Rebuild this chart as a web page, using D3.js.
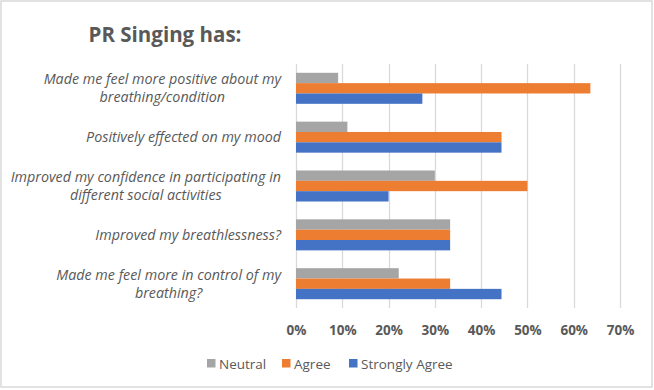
<!DOCTYPE html>
<html>
<head>
<meta charset="utf-8">
<script src="https://cdn.jsdelivr.net/npm/d3@7"></script>
<style>
  html, body { margin: 0; padding: 0; background: #ffffff; }
  svg { display: block; font-family: "Open Sans", "Liberation Sans", sans-serif; }
</style>
</head>
<body>
<svg id="chart"></svg>
<script>
// ── Data ─────────────────────────────────────────────
const title = 'PR Singing has:';

const categories = [
  ['Made me feel more positive about my', 'breathing/condition'],
  ['Positively effected on my mood'],
  ['Improved my confidence in participating in', 'different social activities'],
  ['Improved my breathlessness?'],
  ['Made me feel more in control of my', 'breathing?'],
];

const seriesNames = ['Neutral', 'Agree', 'Strongly Agree'];
const neutral       = [0.091, 0.111, 0.30, 0.333, 0.222];
const agree         = [0.636, 0.444, 0.50, 0.333, 0.333];
const stronglyAgree = [0.273, 0.444, 0.20, 0.333, 0.444];

const xTicks = [0, 0.1, 0.2, 0.3, 0.4, 0.5, 0.6, 0.7];

// ── Layout ───────────────────────────────────────────
const W = 654, H = 390;
const colors = { 'Neutral': '#a5a5a5', 'Agree': '#ed7d31', 'Strongly Agree': '#4472c4' };
const textColor = '#595959';

const svg = d3.select('#chart').attr('width', W).attr('height', H);

svg.append('rect')
  .attr('x', 1).attr('y', 1)
  .attr('width', W - 3).attr('height', H - 4)
  .attr('fill', '#ffffff')
  .attr('stroke', '#d9d9d9')
  .attr('stroke-width', 1.5);

const plot = { left: 296, right: 620, top: 64, bottom: 308 };

const x = d3.scaleLinear().domain([0, 0.7]).range([plot.left, plot.right]);
const y = d3.scaleBand()
  .domain(d3.range(categories.length))
  .range([plot.top, plot.bottom])
  .paddingInner(0.365)
  .paddingOuter(0.18);
const ySub = d3.scaleBand().domain(seriesNames).range([0, y.bandwidth()]);

// ── Title ────────────────────────────────────────────
svg.append('text')
  .attr('x', 165).attr('y', 42)
  .attr('text-anchor', 'middle')
  .attr('fill', textColor)
  .attr('font-size', 20.5)
  .attr('font-weight', 'bold')
  .text(title);

// ── Gridlines ────────────────────────────────────────
svg.append('g')
  .selectAll('line')
  .data(xTicks)
  .join('line')
    .attr('x1', d => Math.round(x(d)) + 0.5)
    .attr('x2', d => Math.round(x(d)) + 0.5)
    .attr('y1', plot.top)
    .attr('y2', plot.bottom)
    .attr('stroke', '#d9d9d9')
    .attr('stroke-width', 1.3);

// ── Bars ─────────────────────────────────────────────
const rows = categories.map((c, i) => ({
  i,
  values: [
    { key: 'Neutral', v: neutral[i] },
    { key: 'Agree', v: agree[i] },
    { key: 'Strongly Agree', v: stronglyAgree[i] },
  ],
}));

svg.append('g')
  .selectAll('g')
  .data(rows)
  .join('g')
    .attr('transform', d => `translate(0,${y(d.i)})`)
  .selectAll('rect')
  .data(d => d.values)
  .join('rect')
    .attr('x', x(0))
    .attr('y', d => ySub(d.key))
    .attr('width', d => x(d.v) - x(0))
    .attr('height', ySub.bandwidth())
    .attr('fill', d => colors[d.key]);

// ── Category labels (wrapped lines centred, block right-aligned) ──
const labelRight = 281;
const labelG = svg.append('g');
categories.forEach((lines, i) => {
  const cy = y(i) + y.bandwidth() / 2;
  const t = labelG.append('text')
    .attr('text-anchor', 'middle')
    .attr('fill', textColor)
    .attr('font-size', 14.3)
    .attr('font-style', 'italic');
  const spans = lines.map((ln, j) =>
    t.append('tspan')
      .attr('y', cy + (j - (lines.length - 1) / 2) * 18 + 5)
      .text(ln));
  const maxW = d3.max(spans, s => s.node().getComputedTextLength());
  spans.forEach(s => s.attr('x', labelRight - maxW / 2));
});

// ── X axis ───────────────────────────────────────────
const xAxis = d3.axisBottom(x)
  .tickValues(xTicks)
  .tickFormat(d3.format('.0%'))
  .tickSize(0)
  .tickPadding(17);

const axisG = svg.append('g')
  .attr('transform', `translate(0,${plot.bottom})`)
  .call(xAxis);
axisG.select('.domain').remove();
axisG.selectAll('text')
  .attr('fill', textColor)
  .attr('font-size', 13.5)
  .attr('font-weight', 'bold')
  .attr('font-family', '"Open Sans", sans-serif');

// ── Legend ───────────────────────────────────────────
const legendX = [207, 282, 349];
const legend = svg.append('g');
seriesNames.forEach((name, i) => {
  legend.append('rect')
    .attr('x', legendX[i]).attr('y', 359)
    .attr('width', 8.5).attr('height', 8.5)
    .attr('fill', colors[name]);
  legend.append('text')
    .attr('x', legendX[i] + 12).attr('y', 368.5)
    .attr('fill', textColor)
    .attr('font-size', 13.5)
    .text(name);
});
</script>
</body>
</html>
